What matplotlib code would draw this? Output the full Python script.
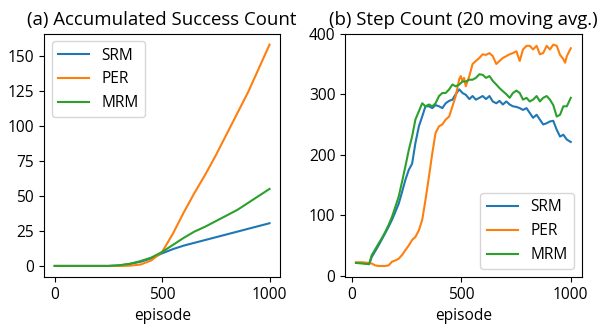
import matplotlib
matplotlib.use('Agg')
import matplotlib.pyplot as plt

plt.rcParams['font.family'] = ['Open Sans', 'DejaVu Sans']
plt.rcParams['font.size'] = 11.2

# (a) accumulated success count
acc_ep = [0, 250, 300, 350, 400, 450, 500, 550, 600, 650, 700, 750, 800, 850, 900, 950, 1000]
acc_srm = [0, 0, 0.3, 1.5, 3, 5.5, 9, 12, 14.5, 16.5, 18.5, 20.5, 22.5, 24.5, 26.5, 28.5, 30.5]
acc_per = [0, 0, 0, 0.2, 1, 4, 10, 23, 38, 52, 65, 79, 94, 109, 124, 141, 158]
acc_mrm = [0, 0, 0.5, 1.5, 3.5, 6, 10, 15, 20, 24.5, 28, 32, 36, 40, 45, 50, 55]

# (b) step count, 20 moving avg.
step_ep = [20, 50, 80, 92, 107, 123, 138, 153, 169, 184, 199, 215, 230, 245, 261, 276,
           291, 307, 322, 337, 353, 368, 383, 399, 414, 429, 445, 460, 475, 491, 506,
           521, 537, 552, 567, 583, 598, 613, 629, 644, 660, 675, 690, 706, 721, 736,
           752, 767, 782, 798, 813, 828, 844, 859, 874, 890, 905, 920, 936, 951, 966,
           982, 1000]
step_srm = [21, 21, 19, 31, 40, 50, 60, 70, 81, 92, 105, 119, 138, 158, 175, 185,
            219, 247, 263, 280, 280, 277, 282, 280, 277, 285, 289, 291, 300, 308, 302,
            299, 292, 297, 291, 294, 297, 292, 297, 288, 285, 289, 283, 288, 283, 280,
            279, 277, 274, 277, 269, 261, 266, 258, 250, 252, 255, 256, 241, 230, 233,
            225, 221]
step_mrm = [21, 20, 19, 34, 43, 53, 62, 72, 84, 97, 113, 131, 155, 180, 208, 230,
            258, 272, 285, 280, 283, 280, 285, 297, 302, 302, 308, 316, 313, 316, 321,
            321, 324, 324, 327, 333, 332, 327, 330, 322, 316, 310, 305, 300, 294, 302,
            306, 302, 291, 294, 288, 291, 297, 288, 294, 297, 291, 282, 263, 266, 280,
            280, 294]
per_ep = [20, 50, 80, 92, 107, 123, 138, 153, 169, 184, 199, 215, 230, 245, 261, 276,
          291, 307, 322, 337, 353, 368, 383, 399, 414, 429, 445, 460, 475, 491, 498,
          506, 513, 521, 537, 552, 567, 583, 598, 613, 629, 644, 660, 675, 690, 706,
          721, 736, 752, 767, 782, 798, 813, 828, 844, 859, 874, 890, 905, 920, 936,
          951, 966, 974, 982, 1000]
step_per = [22, 22, 21, 20, 17, 16, 16, 16, 17, 23, 25, 28, 34, 42, 50, 59,
            64, 75, 92, 125, 164, 202, 236, 247, 250, 258, 263, 280, 297, 325, 330,
            321, 327, 313, 330, 350, 355, 360, 366, 365, 368, 363, 350, 355, 360, 363,
            366, 368, 371, 355, 374, 380, 380, 374, 380, 366, 368, 380, 374, 382, 380,
            365, 358, 352, 363, 376]

fig, (ax1, ax2) = plt.subplots(1, 2, figsize=(6.01, 3.29), dpi=100)
fig.subplots_adjust(left=0.0732, right=0.9676, bottom=0.158, top=0.898, wspace=0.275)

ax1.plot(acc_ep, acc_srm, label='SRM')
ax1.plot(acc_ep, acc_per, label='PER')
ax1.plot(acc_ep, acc_mrm, label='MRM')
ax1.set_title('(a) Accumulated Success Count')
ax1.set_xlabel('episode')
ax1.set_xticks([0, 500, 1000])
ax1.legend(loc='upper left')

ax2.plot(step_ep, step_srm, label='SRM')
ax2.plot(per_ep, step_per, label='PER')
ax2.plot(step_ep, step_mrm, label='MRM')
ax2.set_title('(b) Step Count (20 moving avg.)')
ax2.set_xlabel('episode')
ax2.set_xticks([0, 500, 1000])
ax2.legend(loc='lower right')

fig.savefig('out.png')
